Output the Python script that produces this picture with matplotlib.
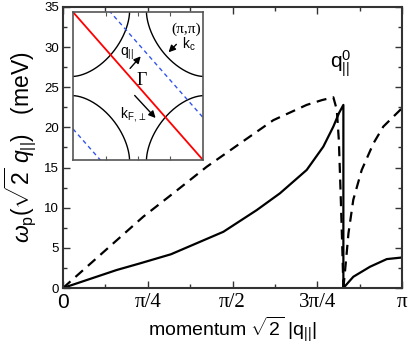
import numpy as np
import matplotlib
matplotlib.use("Agg")
import matplotlib.pyplot as plt

plt.rcParams['font.family'] = ['Liberation Sans', 'DejaVu Sans']
plt.rcParams['mathtext.fontset'] = 'custom'
plt.rcParams['mathtext.rm'] = 'Liberation Sans'
plt.rcParams['mathtext.it'] = 'Liberation Sans:italic'
plt.rcParams['mathtext.bf'] = 'Liberation Sans:bold'

# ---- data (x in radians, y in meV) ----
q0 = 2.598
dash_left_x = [0.0, 0.744, 1.022, 1.332, 1.64, 1.949, 2.258, 2.40, 2.505, 2.537, 2.556, 2.572, 2.588, q0]
dash_left_y = [0.0, 8.88, 11.8, 15.1, 18.0, 20.9, 22.8, 23.4, 23.75, 22.2, 18.4, 12.0, 5.0, 0.0]
dash_right_x = [q0, 2.623, 2.645, 2.69, 2.768, 2.876, 2.968, 3.1416]
dash_right_y = [0.0, 3.5, 6.8, 11.0, 14.7, 18.0, 20.1, 22.4]
solid_x = [0.0, 0.497, 0.714, 1.0, 1.486, 1.795, 2.011, 2.258, 2.412, 2.505, 2.558, q0, q0,
           2.69, 2.845, 3.0, 3.1416]
solid_y = [0.0, 2.24, 3.07, 4.2, 7.0, 9.7, 11.8, 14.7, 17.6, 20.1, 21.8, 22.8, 0.0,
           1.4, 2.65, 3.6, 3.8]

xtick_vals = [0, np.pi/4, np.pi/2, 3*np.pi/4, np.pi]
xtick_labels = ['0', 'π/4', 'π/2', '3π/4', 'π']
ytick_vals = [0, 5, 10, 15, 20, 25, 30, 35]

# inset geometry (units of pi)
fs_radius = 0.87
fs_power = 1.7
blue_offsets = [0.575, -1.58]

fig = plt.figure(figsize=(4.09, 3.46), dpi=100)
ax = fig.add_axes([0.154, 0.1676, 0.829, 0.8124])

ax.plot(dash_left_x, dash_left_y, color='black', lw=1.6, ls=(0, (4.5, 3)))
ax.plot(dash_right_x, dash_right_y, color='black', lw=1.6, ls=(0, (4.5, 3)))
ax.plot(solid_x, solid_y, color='black', lw=1.6)

ax.set_xlim(0, np.pi)
ax.set_ylim(0, 35)
ax.set_xticks(xtick_vals)
ax.set_xticklabels(xtick_labels)
for i, t in enumerate(ax.get_xticklabels()):
    t.set_fontsize(15)
    t.set_family('Liberation Sans' if i == 0 else 'Liberation Serif')
ax.set_xticks(np.arange(1, 8, 2) * np.pi / 8, minor=True)
ax.set_yticks(ytick_vals)
ax.set_yticks(np.arange(2.5, 35, 5), minor=True)
ax.tick_params(axis='y', labelsize=9.5, pad=3)
ax.tick_params(which='both', direction='in', top=True, right=True, color='#333333')
ax.tick_params(which='major', length=5, width=1)
ax.tick_params(which='minor', length=3, width=1)
for s in ax.spines.values():
    s.set_linewidth(1.5)
    s.set_color('#333333')

ax.set_xlabel(r'momentum $\sqrt{2}$ |q$_{||}$|', fontsize=14, labelpad=2)
ax.set_ylabel(r'$\omega_{\rm p}(\sqrt{2}\ q_{||})$   (meV)', fontsize=16.5, labelpad=4)
ax.text(2.575, 26.0, r'q$_{||}^{0}$', fontsize=15, ha='center', va='bottom')

# ---- inset ----
ins = fig.add_axes([0.1785, 0.5376, 0.3178, 0.4275])
ins.set_xlim(-1, 1)
ins.set_ylim(-1, 1)
th = np.linspace(0, np.pi / 2, 200)
cu = np.cos(th) ** (2 / fs_power)
sv = np.sin(th) ** (2 / fs_power)
for cx in (-1, 1):
    for cy in (-1, 1):
        ins.plot(cx - np.sign(cx) * fs_radius * cu, cy - np.sign(cy) * fs_radius * sv,
                 color='black', lw=1.0)
xx = np.linspace(-1, 1, 50)
ins.plot(xx, -xx, color='red', lw=1.3)
for c in blue_offsets:
    ins.plot(xx, -xx + c, color='#3355ee', lw=1.0, ls=(0, (3, 2.5)))
ins.set_xticks([-0.5, 0, 0.5])
ins.set_yticks([])
ins.tick_params(direction='in', top=True, bottom=True, labelbottom=False, length=3, color='#555555')
for s in ins.spines.values():
    s.set_linewidth(1.2)
    s.set_color('#555555')

arrow_kw = dict(arrowstyle='-|>', color='black', lw=1.0, mutation_scale=10)
ins.text(0.735, 0.77, '(π,π)', fontsize=11, family='Liberation Serif', ha='center', va='center')
ins.text(0.78, 0.568, r'k$_{\rm c}$', fontsize=10, ha='center', va='center')
ins.annotate('', xy=(0.44, 0.43), xytext=(0.62, 0.59), arrowprops=arrow_kw)
ins.text(-0.17, 0.43, r'q$_{||}$', fontsize=10, ha='center', va='center')
ins.annotate('', xy=(0.07, 0.43), xytext=(-0.15, 0.21), arrowprops=arrow_kw)
ins.text(0.06, 0.08, 'Γ', fontsize=13, family='Liberation Serif', ha='center', va='center')
ins.text(-0.06, -0.38, r'k$_{{\rm F},\perp}$', fontsize=10, ha='center', va='center')
ins.annotate('', xy=(0.30, -0.46), xytext=(-0.08, -0.10), arrowprops=arrow_kw)

fig.savefig('out.png', dpi=100)
